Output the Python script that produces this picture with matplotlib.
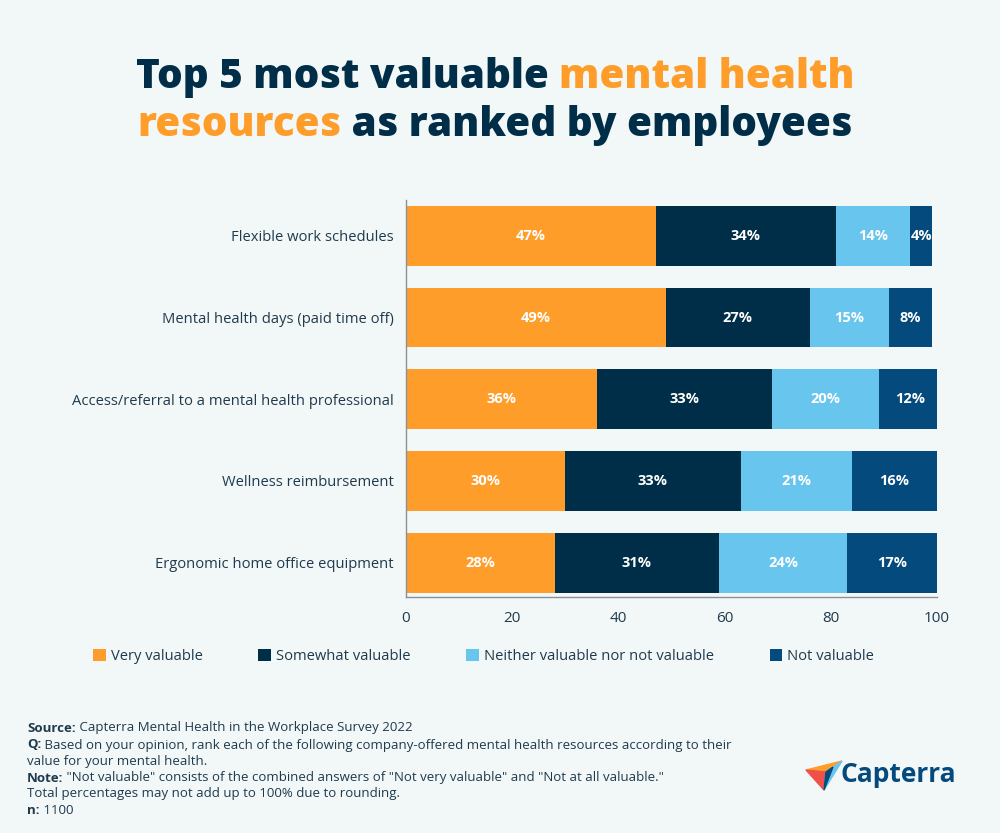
import matplotlib
matplotlib.use("Agg")
import matplotlib.pyplot as plt
from matplotlib.patches import Polygon
import numpy as np

plt.rcParams['font.family'] = ['Open Sans', 'DejaVu Sans']

categories = ["Flexible work schedules", "Mental health days (paid time off)",
              "Access/referral to a mental health professional", "Wellness reimbursement",
              "Ergonomic home office equipment"]
series_names = ["Very valuable", "Somewhat valuable", "Neither valuable nor not valuable", "Not valuable"]
very = [47, 49, 36, 30, 28]
somewhat = [34, 27, 33, 33, 31]
neither = [14, 15, 20, 21, 24]
notval = [4, 8, 12, 16, 17]
xticks = [0, 20, 40, 60, 80, 100]

colors = ["#FF9D2A", "#002D47", "#68C5EE", "#044A7D"]
bg = "#F2F7F7"
txt = "#1F3A4D"
navy = "#002D47"
orange = "#FF9D2A"

fig = plt.figure(figsize=(10, 8.33), dpi=100, facecolor=bg)
ax = fig.add_axes([0.406, 0.2833, 0.531, 0.4767], facecolor=bg)

y = np.arange(len(categories))
left = np.zeros(len(categories))
for vals, col, name in zip([very, somewhat, neither, notval], colors, series_names):
    vals = np.array(vals, dtype=float)
    bars = ax.barh(y, vals, left=left, height=0.73, color=col, label=name, edgecolor='none')
    for b, v, l in zip(bars, vals, left):
        ax.text(l + v / 2, b.get_y() + b.get_height() / 2, f"{int(v)}%", ha='center', va='center',
                color='white', fontsize=10.5, fontweight='bold', clip_on=False)
    left = left + vals

ax.set_xlim(0, 100)
ax.set_ylim(4.42, -0.44)
ax.set_yticks(y)
ax.set_yticklabels(categories, fontsize=10.6, color=txt)
ax.set_xticks(xticks)
ax.set_xticklabels([str(t) for t in xticks], fontsize=11, color=txt)
ax.tick_params(axis='y', length=0, pad=9)
ax.tick_params(axis='x', length=0, pad=10)
for s in ['top', 'right']:
    ax.spines[s].set_visible(False)
for s in ['left', 'bottom']:
    ax.spines[s].set_color('#8A9199')
    ax.spines[s].set_linewidth(1)

# Legend
leg = fig.legend(loc='center left', bbox_to_anchor=(0.080, 0.212), ncol=4, frameon=False,
                 fontsize=10.6, handlelength=0.85, handleheight=0.85, handletextpad=0.35,
                 columnspacing=3.78, labelcolor=txt)

# Title with mixed colors
def draw_segments(segments, ypos, fontsize, weight='heavy', center=0.495):
    renderer = fig.canvas.get_renderer()
    texts = []
    widths = []
    for s, c in segments:
        t = fig.text(0, ypos, s, fontsize=fontsize, fontweight=weight, color=c, va='center', ha='left')
        bb = t.get_window_extent(renderer=renderer)
        texts.append(t)
        widths.append(bb.width / fig.bbox.width)
    total = sum(widths)
    x = center - total / 2
    for t, w in zip(texts, widths):
        t.set_x(x)
        x += w

draw_segments([("Top 5 most valuable ", navy), ("mental health", orange)], 1 - 77 / 833, 29.1)
draw_segments([("resources", orange), (" as ranked by employees", navy)], 1 - 126 / 833, 29.1)

# Footnotes
def draw_line(segments, xpos, ypos, fontsize=9.5):
    renderer = fig.canvas.get_renderer()
    x = xpos
    for s, w in segments:
        t = fig.text(x, ypos, s, fontsize=fontsize, fontweight=w, color=txt, va='center', ha='left')
        bb = t.get_window_extent(renderer=renderer)
        x += bb.width / fig.bbox.width

fx = 0.027
lines = [
    [("Source:", 'bold'), (" Capterra Mental Health in the Workplace Survey 2022", 'normal')],
    [("Q:", 'bold'), (" Based on your opinion, rank each of the following company-offered mental health resources according to their", 'normal')],
    [("value for your mental health.", 'normal')],
    [("Note:", 'bold'), (" \"Not valuable\" consists of the combined answers of \"Not very valuable\" and \"Not at all valuable.\"", 'normal')],
    [("Total percentages may not add up to 100% due to rounding.", 'normal')],
    [("n:", 'bold'), (" 1100", 'normal')],
]
ys = [728, 745, 761, 778, 794, 810]
for ln, yp in zip(lines, ys):
    draw_line(ln, fx, 1 - yp / 833)

# Capterra logo
def px(xp, yp):
    return (xp / 1000, 1 - yp / 833)

fig.patches.append(Polygon([px(806, 770), px(842, 761), px(826, 772)], closed=True,
                           transform=fig.transFigure, color="#FF9D2A"))
fig.patches.append(Polygon([px(806, 770), px(826, 772), px(824, 790)], closed=True,
                           transform=fig.transFigure, color="#F0504A"))
fig.patches.append(Polygon([px(826, 772), px(842, 761), px(824, 790)], closed=True,
                           transform=fig.transFigure, color="#68C5EE"))
fig.patches.append(Polygon([px(826, 772), px(833, 767), px(824, 790)], closed=True,
                           transform=fig.transFigure, color="#044A7D"))
fig.text(0.840, 1 - 775 / 833, "Capterra", fontsize=19, fontweight='bold', color="#044A7D",
         va='center', ha='left')

fig.savefig("out.png", dpi=100, facecolor=bg)
